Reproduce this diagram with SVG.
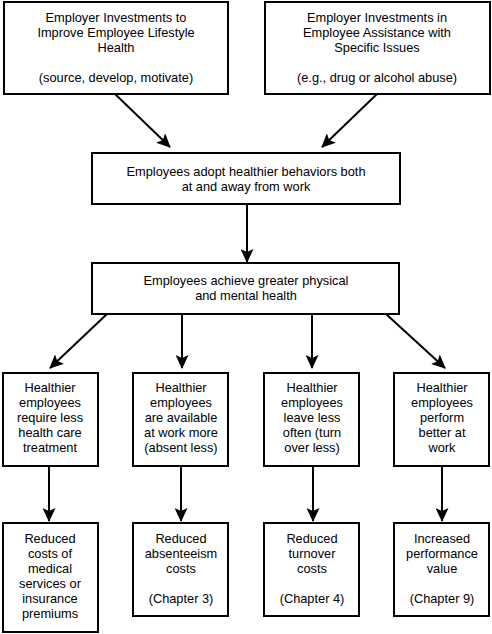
<svg xmlns="http://www.w3.org/2000/svg" width="492" height="634" viewBox="0 0 492 634">
<style>
.box{fill:#fff;stroke:#000;stroke-width:2}
text{font-family:"Liberation Sans",Arial,sans-serif;font-size:12.8px;fill:#000;text-anchor:middle}
.c line{stroke:#000;stroke-width:2}
</style>
<defs>
<marker id="ah" viewBox="0 0 14 13" refX="13" refY="6.5" markerWidth="14" markerHeight="13" markerUnits="userSpaceOnUse" orient="auto">
<path d="M0,0 L14,6.5 L0,13 L3,6.5 Z" fill="#000"/>
</marker>
</defs>
<rect width="492" height="634" fill="#fff"/>
<g class="c">
<line x1="115" y1="94" x2="170" y2="147" marker-end="url(#ah)"/>
<line x1="377" y1="94" x2="322" y2="147" marker-end="url(#ah)"/>
<line x1="247" y1="204" x2="247" y2="262" marker-end="url(#ah)"/>
<line x1="107" y1="314" x2="50" y2="368" marker-end="url(#ah)"/>
<line x1="182" y1="314" x2="182" y2="368" marker-end="url(#ah)"/>
<line x1="312" y1="314" x2="312" y2="368" marker-end="url(#ah)"/>
<line x1="386" y1="314" x2="445" y2="368" marker-end="url(#ah)"/>
<line x1="49" y1="466" x2="49" y2="521" marker-end="url(#ah)"/>
<line x1="181" y1="466" x2="181" y2="521" marker-end="url(#ah)"/>
<line x1="313" y1="466" x2="313" y2="521" marker-end="url(#ah)"/>
<line x1="442" y1="466" x2="442" y2="521" marker-end="url(#ah)"/>
</g>
<g id="n1"><rect class="box" x="4" y="2" width="224" height="92"/>
<text x="116" y="22">Employer Investments to</text><text x="116" y="37">Improve Employee Lifestyle</text><text x="116" y="52">Health</text><text x="116" y="82">(source, develop, motivate)</text></g>
<g id="n2"><rect class="box" x="265" y="2" width="225" height="92"/>
<text x="377" y="22">Employer Investments in</text><text x="377" y="37">Employee Assistance with</text><text x="377" y="52">Specific Issues</text><text x="377" y="82">(e.g., drug or alcohol abuse)</text></g>
<g id="n3"><rect class="box" x="92" y="153" width="308" height="51"/>
<text x="246" y="176">Employees adopt healthier behaviors both</text><text x="246" y="191">at and away from work</text></g>
<g id="n4"><rect class="box" x="92" y="263" width="307" height="51"/>
<text x="246" y="285">Employees achieve greater physical</text><text x="246" y="300">and mental health</text></g>
<g id="n5"><rect class="box" x="3" y="373" width="95" height="93"/>
<text x="50" y="392">Healthier</text><text x="50" y="407">employees</text><text x="50" y="422">require less</text><text x="50" y="437">health care</text><text x="50" y="452">treatment</text></g>
<g id="n6"><rect class="box" x="133" y="373" width="95" height="93"/>
<text x="181" y="392">Healthier</text><text x="181" y="407">employees</text><text x="181" y="422">are available</text><text x="181" y="437">at work more</text><text x="181" y="452">(absent less)</text></g>
<g id="n7"><rect class="box" x="264" y="373" width="95" height="93"/>
<text x="312" y="392">Healthier</text><text x="312" y="407">employees</text><text x="312" y="422">leave less</text><text x="312" y="437">often (turn</text><text x="312" y="452">over less)</text></g>
<g id="n8"><rect class="box" x="394" y="373" width="95" height="93"/>
<text x="442" y="392">Healthier</text><text x="442" y="407">employees</text><text x="442" y="422">perform</text><text x="442" y="437">better at</text><text x="442" y="452">work</text></g>
<g id="n9"><rect class="box" x="3" y="523" width="95" height="109"/>
<text x="50" y="543">Reduced</text><text x="50" y="558">costs of</text><text x="50" y="573">medical</text><text x="50" y="588">services or</text><text x="50" y="603">insurance</text><text x="50" y="618">premiums</text></g>
<g id="n10"><rect class="box" x="133" y="523" width="95" height="93"/>
<text x="181" y="543">Reduced</text><text x="181" y="558">absenteeism</text><text x="181" y="573">costs</text><text x="181" y="603">(Chapter 3)</text></g>
<g id="n11"><rect class="box" x="264" y="523" width="95" height="93"/>
<text x="312" y="543">Reduced</text><text x="312" y="558">turnover</text><text x="312" y="573">costs</text><text x="312" y="603">(Chapter 4)</text></g>
<g id="n12"><rect class="box" x="394" y="523" width="95" height="93"/>
<text x="442" y="543">Increased</text><text x="442" y="558">performance</text><text x="442" y="573">value</text><text x="442" y="603">(Chapter 9)</text></g>
</svg>
